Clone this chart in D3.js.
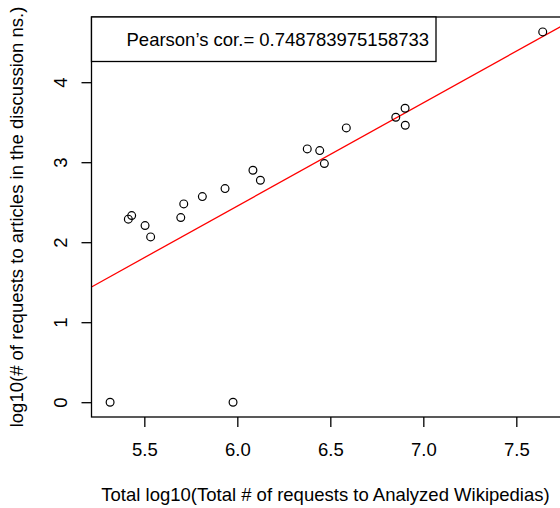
<!DOCTYPE html>
<html>
<head>
<meta charset="utf-8">
<script src="https://cdn.jsdelivr.net/npm/d3@7"></script>
<style>
  html, body { margin: 0; padding: 0; background: #fff; }
  svg { display: block; }
  text { font-family: "Liberation Sans", Arial, Helvetica, sans-serif; fill: #000; }
</style>
</head>
<body>
<svg id="chart" width="560" height="508"></svg>
<script>
// log10 of total requests per Wikipedia (x) and of discussion-namespace requests (y)
const totalRequests = [5.316, 5.977, 5.414, 5.432, 5.504, 5.534, 5.696, 5.712, 5.812, 5.934,
                       6.084, 6.124, 6.376, 6.443, 6.468, 6.586, 6.852, 6.902, 6.903, 7.642];
const discussionRequests = [0, 0, 2.288, 2.333, 2.208, 2.066, 2.308, 2.479, 2.570, 2.670,
                            2.900, 2.775, 3.166, 3.145, 2.983, 3.429, 3.562, 3.675, 3.462, 4.629];

// least-squares fit line (intercept, slope)
const fitLine = [-5.288, 1.29];
const pearson = "0.748783975158733";

const xTicks = [5.5, 6.0, 6.5, 7.0, 7.5];
const yTicks = [0, 1, 2, 3, 4];

const xTitle = "Total log10(Total # of requests to Analyzed Wikipedias)";
const yTitle = "log10(# of requests to articles in the discussion ns.)";

const svg = d3.select("#chart");
const plot = { left: 91.5, right: 561.7, top: 17, bottom: 417 };

const x = d3.scaleLinear().domain([5.216, 7.744]).range([plot.left, plot.right]);
const y = d3.scaleLinear().domain([-0.185, 4.815]).range([plot.bottom, plot.top]);

const fontSize = 18.5;
const tickLen = 10;

// clip region for the fit line
svg.append("clipPath").attr("id", "plotClip")
  .append("rect")
  .attr("x", plot.left).attr("y", plot.top)
  .attr("width", plot.right - plot.left).attr("height", plot.bottom - plot.top);

// regression line
const [b0, b1] = fitLine;
const xd = x.domain();
svg.append("line")
  .attr("clip-path", "url(#plotClip)")
  .attr("x1", x(xd[0])).attr("y1", y(b0 + b1 * xd[0]))
  .attr("x2", x(xd[1])).attr("y2", y(b0 + b1 * xd[1]))
  .attr("stroke", "#ff0000").attr("stroke-width", 1.3);

// points
svg.append("g").selectAll("circle")
  .data(totalRequests.map((v, i) => [v, discussionRequests[i]]))
  .join("circle")
  .attr("cx", d => x(d[0]))
  .attr("cy", d => y(d[1]))
  .attr("r", 3.9)
  .attr("fill", "none")
  .attr("stroke", "#000")
  .attr("stroke-width", 1.2);

// x axis
const xAxis = d3.axisBottom(x).tickValues(xTicks).tickFormat(d3.format(".1f"))
  .tickSizeInner(tickLen).tickSizeOuter(0).tickPadding(0);
const gx = svg.append("g").attr("transform", `translate(0,${plot.bottom})`).call(xAxis);
gx.select(".domain").remove();
gx.selectAll(".tick line").attr("stroke", "#000").attr("stroke-width", 1.3);
gx.selectAll(".tick text")
  .attr("y", 39).attr("dy", null)
  .attr("font-size", fontSize)
  .attr("font-family", "Liberation Sans, Arial, sans-serif")
  .attr("fill", "#000");

// y axis
const yAxis = d3.axisLeft(y).tickValues(yTicks).tickFormat(d3.format("d"))
  .tickSizeInner(tickLen).tickSizeOuter(0).tickPadding(0);
const gy = svg.append("g").attr("transform", `translate(${plot.left},0)`).call(yAxis);
gy.select(".domain").remove();
gy.selectAll(".tick line").attr("stroke", "#000").attr("stroke-width", 1.3);
gy.selectAll(".tick text")
  .attr("x", null).attr("dy", null)
  .attr("text-anchor", "middle")
  .attr("transform", "translate(-24.5,0) rotate(-90)")
  .attr("font-size", fontSize)
  .attr("font-family", "Liberation Sans, Arial, sans-serif")
  .attr("fill", "#000");

// plot frame
svg.append("rect")
  .attr("x", plot.left).attr("y", plot.top)
  .attr("width", plot.right - plot.left).attr("height", plot.bottom - plot.top)
  .attr("fill", "none").attr("stroke", "#000").attr("stroke-width", 1.3);

// legend box with the correlation
const legend = svg.append("g");
legend.append("rect")
  .attr("x", plot.left).attr("y", plot.top)
  .attr("width", 344.5).attr("height", 44.5)
  .attr("fill", "#fff").attr("stroke", "#000").attr("stroke-width", 1.3);
legend.append("text")
  .attr("x", 126.5).attr("y", 45.5)
  .attr("font-size", fontSize)
  .text(`Pearson\u2019s cor.= ${pearson}`);

// axis titles
svg.append("text")
  .attr("x", 325.5).attr("y", 500.5)
  .attr("text-anchor", "middle")
  .attr("font-size", fontSize)
  .text(xTitle);

svg.append("text")
  .attr("transform", `translate(23,${(plot.top + plot.bottom) / 2}) rotate(-90)`)
  .attr("text-anchor", "middle")
  .attr("font-size", fontSize)
  .text(yTitle);
</script>
</body>
</html>
